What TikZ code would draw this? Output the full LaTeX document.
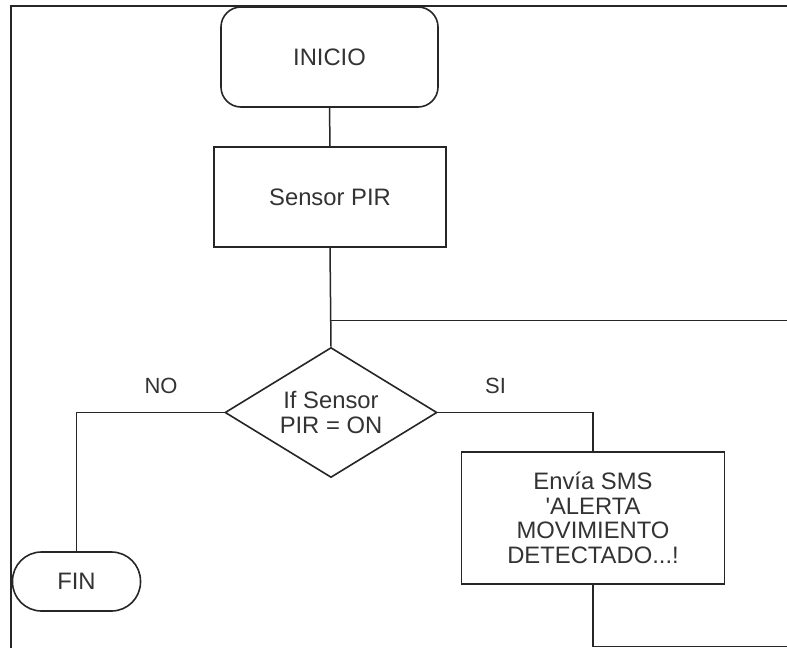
\documentclass[tikz,border=0pt]{standalone}
\usepackage{fontspec}
\setmainfont{Liberation Sans}
\usetikzlibrary{shapes.geometric}
\definecolor{ink}{HTML}{262626}
\definecolor{txt}{HTML}{333333}
\tikzset{
  base/.style={draw=ink, line width=1.6pt, text=txt, align=center, inner sep=0pt,
    font=\fontsize{23.8}{24.5}\selectfont},
  terminal/.style={base, rectangle, rounded corners=#1},
  procbox/.style={base, rectangle},
  decision/.style={base, diamond, shape aspect=1.63},
  link/.style={draw=ink, line width=1.5pt},
  tag/.style={text=txt, font=\fontsize{22}{24}\selectfont, inner sep=0pt},
}
\begin{document}
\begin{tikzpicture}[x=1pt, y=-1pt]
\useasboundingbox (0,0) rectangle (787,648);
\fill[white] (0,0) rectangle (787,648);

% outer frame (left and top edges)
\draw[ink, line width=2pt] (11,648) -- (11,6) -- (787,6);

% flowchart nodes
\node[terminal=20pt, minimum width=217pt, minimum height=100pt] (inicio) at (329.5,57) {INICIO};
\node[procbox, minimum width=232pt, minimum height=100pt] (sensor) at (330,197) {Sensor PIR};
\node[decision, minimum width=212pt, minimum height=130pt] (dec) at (331,412.5) {If Sensor\\PIR = ON};
\node[terminal=29pt, minimum width=128pt, minimum height=59pt] (fin) at (76.5,581.5) {FIN};
\node[procbox, minimum width=263pt, minimum height=132pt] (sms) at (593,518)
  {Envía SMS\\\textquotesingle ALERTA\\MOVIMIENTO\\DETECTADO...!};

% loop-back line joining the main trunk
\coordinate (junc) at (330,320.5);
\coordinate (juncR) at (787,320.5);
\coordinate (back) at (787,646.5);

% connectors
\draw[link] (inicio.south) -- (sensor.north);
\draw[link] (sensor.south) -- (dec.north);
\draw[link] (junc) -- (juncR);
\draw[link] (dec.west) -| (fin.north);
\draw[link] (dec.east) -| (sms.north);
\draw[link] (sms.south) |- (back);

% branch labels
\node[tag] (lno) at (161,386) {NO};
\node[tag] (lsi) at (495.5,386) {SI};
\end{tikzpicture}
\end{document}
